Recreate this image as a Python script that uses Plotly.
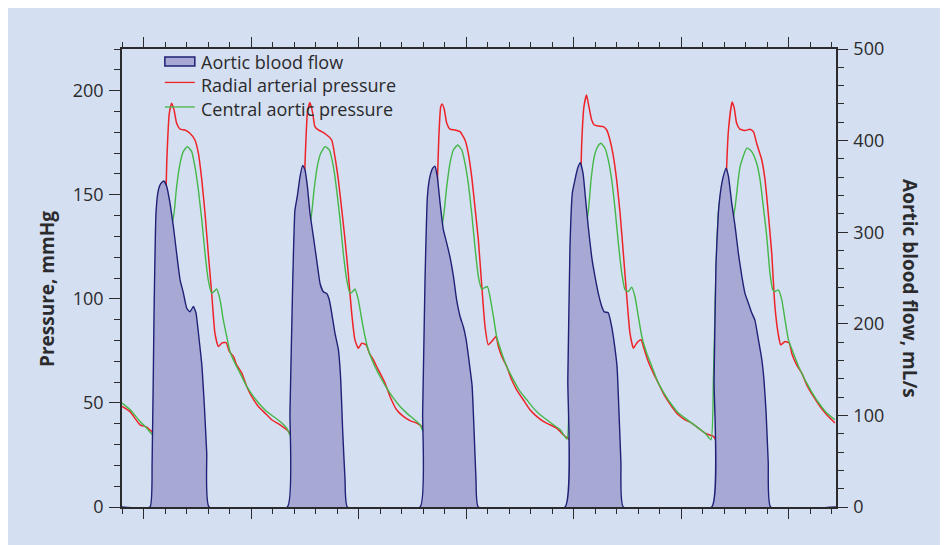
import plotly.graph_objects as go

# aortic blood flow (mL/s) against time (s)
flow_t = [0.0,
          0.130, 0.140, 0.149, 0.158, 0.169, 0.180, 0.195, 0.208, 0.223, 0.239, 0.254,
          0.270, 0.285, 0.301, 0.316, 0.332, 0.344, 0.359, 0.372, 0.383, 0.394, 0.405,
          0.769, 0.781, 0.794, 0.804, 0.815, 0.828, 0.840, 0.851, 0.862, 0.874, 0.890,
          0.905, 0.921, 0.936, 0.952, 0.964, 0.975, 0.990, 1.006, 1.017, 1.026, 1.037, 1.048,
          1.386, 1.398, 1.409, 1.420, 1.432, 1.445, 1.455, 1.466, 1.479, 1.494, 1.510,
          1.525, 1.541, 1.556, 1.572, 1.587, 1.600, 1.615, 1.628, 1.637, 1.646, 1.657,
          2.060, 2.073, 2.083, 2.094, 2.106, 2.119, 2.131, 2.144, 2.156, 2.168, 2.184,
          2.199, 2.215, 2.231, 2.243, 2.261, 2.277, 2.289, 2.302, 2.311, 2.320, 2.331,
          2.742, 2.753, 2.762, 2.773, 2.784, 2.796, 2.809, 2.820, 2.835, 2.851, 2.866,
          2.882, 2.897, 2.912, 2.928, 2.943, 2.959, 2.975, 2.985, 2.995, 3.005, 3.016,
          3.32]
flow_ml = [0,
           0, 48, 212, 321, 346, 353, 356, 350, 332, 306, 277,
           248, 234, 217, 213, 219, 212, 182, 153, 110, 59, 0,
           0, 103, 248, 324, 339, 361, 373, 368, 350, 321, 295,
           270, 244, 235, 233, 226, 212, 190, 172, 139, 84, 30, 0,
           0, 103, 248, 339, 361, 370, 372, 361, 332, 303, 288,
           273, 252, 226, 208, 197, 183, 157, 132, 84, 30, 0,
           0, 139, 284, 343, 357, 370, 376, 364, 335, 306, 273,
           252, 233, 219, 213, 212, 197, 179, 153, 103, 48, 0,
           0, 139, 266, 321, 346, 361, 370, 361, 332, 306, 277,
           252, 233, 223, 212, 204, 183, 161, 139, 103, 48, 0,
           0]

# radial arterial pressure (mmHg)
radial_t = [0.000, 0.037, 0.084, 0.115, 0.138, 0.161, 0.173, 0.185, 0.195, 0.208, 0.220,
            0.231, 0.242, 0.254, 0.270, 0.293, 0.316, 0.339, 0.355, 0.371, 0.386, 0.401,
            0.417, 0.432, 0.448, 0.464, 0.484, 0.499, 0.518, 0.533, 0.557, 0.580, 0.603,
            0.634, 0.665, 0.696, 0.735, 0.766, 0.789, 0.804,
            0.815, 0.828, 0.840, 0.851, 0.862, 0.874, 0.887, 0.897, 0.913, 0.929, 0.952,
            0.975, 0.990, 1.006, 1.022, 1.037, 1.052, 1.068, 1.083, 1.099, 1.115, 1.135,
            1.150, 1.169, 1.184, 1.200, 1.223, 1.246, 1.277, 1.308, 1.339, 1.370, 1.394,
            1.409, 1.424,
            1.437, 1.448, 1.461, 1.473, 1.482, 1.489, 1.499, 1.510, 1.525, 1.548, 1.572,
            1.595, 1.610, 1.626, 1.641, 1.657, 1.673, 1.688, 1.703, 1.719, 1.739, 1.750,
            1.766, 1.789, 1.812, 1.835, 1.866, 1.897, 1.928, 1.959, 1.990, 2.021, 2.052,
            2.083, 2.102,
            2.114, 2.126, 2.137, 2.148, 2.160, 2.171, 2.184, 2.196, 2.215, 2.238, 2.254,
            2.269, 2.285, 2.300, 2.316, 2.331, 2.347, 2.362, 2.378, 2.393, 2.413, 2.429,
            2.447, 2.471, 2.494, 2.525, 2.556, 2.587, 2.618, 2.649, 2.680, 2.711, 2.750,
            2.773,
            2.785, 2.796, 2.807, 2.820, 2.837, 2.847, 2.858, 2.873, 2.897, 2.920, 2.936,
            2.951, 2.975, 2.990, 3.005, 3.021, 3.036, 3.052, 3.063, 3.083, 3.103, 3.114,
            3.137, 3.161, 3.184, 3.215, 3.246, 3.277, 3.300, 3.315]
radial_mmhg = [48.3, 45.8, 39.5, 38.4, 36.3, 33.9, 35.5, 61.1, 109.1, 165.1, 189.1,
               194.0, 190.7, 184.3, 181.5, 181.1, 179.5, 176.3, 170.0, 157.1, 141.1, 122.0,
               102.7, 83.5, 77.1, 78.7, 79.0, 74.7, 72.3, 68.3, 64.3, 57.9, 53.1,
               48.3, 45.1, 41.9, 39.5, 37.1, 34.7, 32.3,
               37.1, 77.1, 125.1, 165.1, 189.1, 194.3, 189.1, 182.7, 181.1, 180.3, 178.7,
               176.3, 168.3, 157.1, 142.7, 128.3, 112.3, 93.1, 80.3, 76.3, 78.7, 77.9,
               73.9, 70.7, 67.5, 64.3, 59.5, 53.1, 46.7, 43.5, 41.5, 40.3, 38.7,
               36.3, 33.9,
               42.0, 85.0, 137.0, 177.0, 192.3, 193.6, 190.7, 184.3, 181.5, 181.1, 180.3,
               176.3, 170.0, 158.7, 144.3, 128.3, 105.9, 86.7, 77.9, 79.5, 81.9, 77.1,
               72.3, 67.5, 61.1, 56.3, 51.5, 46.7, 43.5, 41.1, 39.5, 37.9, 34.7,
               32.3, 33.1,
               77.1, 125.1, 173.1, 192.3, 197.9, 192.3, 185.9, 183.5, 183.0, 182.7, 181.1,
               176.3, 168.3, 157.1, 141.1, 122.0, 101.1, 83.5, 76.3, 78.7, 80.3, 75.5,
               69.9, 64.3, 59.5, 53.1, 48.3, 44.3, 41.9, 40.3, 37.9, 35.5, 33.9,
               30.7,
               45.1, 93.1, 149.1, 181.1, 194.5, 191.5, 184.3, 181.5, 180.8, 181.5, 180.3,
               174.7, 166.7, 157.1, 141.1, 122.0, 96.3, 82.7, 77.9, 79.5, 78.7, 73.9,
               68.3, 64.3, 58.7, 53.1, 48.3, 44.3, 41.9, 40.3]

# central aortic pressure (mmHg)
central_t = [0.000, 0.037, 0.084, 0.115, 0.143,
             0.153, 0.161, 0.173, 0.185, 0.195, 0.208, 0.220, 0.231, 0.242, 0.254, 0.270,
             0.285, 0.304, 0.324, 0.339, 0.355, 0.371, 0.386, 0.401, 0.417, 0.428, 0.440,
             0.456, 0.471, 0.487, 0.502, 0.525, 0.549, 0.580, 0.611, 0.642, 0.673, 0.704,
             0.735, 0.766, 0.783,
             0.794, 0.804, 0.815, 0.828, 0.840, 0.851, 0.862, 0.871, 0.882, 0.893, 0.908,
             0.924, 0.944, 0.964, 0.983, 0.998, 1.014, 1.029, 1.045, 1.060, 1.073, 1.083,
             1.099, 1.115, 1.130, 1.145, 1.169, 1.200, 1.231, 1.262, 1.293, 1.324, 1.355,
             1.386, 1.400,
             1.409, 1.420, 1.432, 1.443, 1.452, 1.463, 1.475, 1.487, 1.497, 1.510, 1.525,
             1.541, 1.561, 1.580, 1.595, 1.610, 1.626, 1.641, 1.657, 1.673, 1.683, 1.699,
             1.711, 1.727, 1.742, 1.766, 1.789, 1.820, 1.851, 1.882, 1.913, 1.944, 1.975,
             2.006, 2.038, 2.069,
             2.080, 2.088, 2.099, 2.110, 2.119, 2.130, 2.145, 2.156, 2.169, 2.181, 2.196,
             2.212, 2.227, 2.246, 2.261, 2.277, 2.293, 2.308, 2.324, 2.339, 2.354, 2.370,
             2.385, 2.401, 2.417, 2.440, 2.464, 2.494, 2.525, 2.556, 2.587, 2.618, 2.649,
             2.680, 2.711, 2.739,
             2.750, 2.761, 2.773, 2.789, 2.804, 2.817, 2.832, 2.851, 2.874, 2.906, 2.928,
             2.951, 2.967, 2.982, 2.998, 3.013, 3.026, 3.036, 3.052, 3.068, 3.083, 3.099,
             3.122, 3.153, 3.184, 3.215, 3.246, 3.277, 3.315]
central_mmhg = [49.9, 46.8, 41.1, 37.9, 34.7,
                61.1, 109.1, 144.3, 154.7, 155.5, 147.5, 137.9, 135.5, 141.1, 153.9, 165.1,
                170.7, 173.1, 170.7, 163.5, 152.3, 137.9, 121.9, 109.1, 102.7, 103.5, 104.7,
                99.5, 89.9, 81.9, 74.7, 69.1, 64.3, 57.9, 53.1, 49.1, 45.9, 43.5,
                41.1, 37.9, 34.3,
                61.1, 109.1, 141.1, 152.3, 155.5, 149.1, 137.9, 134.7, 141.1, 152.3, 163.5,
                169.9, 173.1, 171.5, 163.5, 152.3, 137.9, 121.9, 109.1, 102.7, 103.5, 104.7,
                99.5, 89.9, 81.9, 75.5, 69.1, 62.7, 57.1, 52.3, 48.3, 45.1, 42.4,
                39.5, 36.3,
                77.1, 125.1, 149.1, 157.1, 157.9, 147.5, 137.9, 134.7, 141.1, 153.9, 165.1,
                171.5, 173.9, 171.5, 165.1, 155.5, 141.1, 125.1, 110.7, 104.7, 105.1, 105.9,
                101.1, 91.5, 81.9, 73.9, 67.5, 61.1, 55.5, 51.5, 47.5, 44.3, 41.9,
                39.5, 37.1, 32.6,
                61.1, 109.1, 141.1, 153.9, 157.1, 150.7, 137.9, 135.0, 142.7, 157.1, 168.3,
                173.1, 174.7, 172.3, 166.7, 157.1, 142.7, 126.7, 112.3, 104.3, 103.5, 105.6,
                101.1, 91.5, 81.9, 73.9, 67.5, 59.5, 53.9, 49.1, 45.1, 42.7, 40.3,
                37.9, 35.5, 32.3,
                61.1, 109.1, 141.1, 152.3, 154.7, 144.3, 133.9, 144.3, 163.5, 172.5, 170.7,
                165.1, 157.1, 144.3, 129.9, 112.3, 104.3, 103.5, 104.3, 99.5, 89.9, 80.3,
                73.9, 65.9, 59.5, 53.9, 49.1, 45.1, 41.9]

legend_labels = ['Aortic blood flow', 'Radial arterial pressure', 'Central aortic pressure']

BG = '#d4e0f1'
INK = '#2b2a2c'
FLOW_LINE, FLOW_FILL = '#1f2076', '#a7a9d4'
RED, GREEN = '#ee2328', '#45b649'

fig = go.Figure()
fig.add_trace(go.Scatter(x=flow_t, y=flow_ml, name=legend_labels[0], yaxis='y2',
                         mode='lines', fill='tozeroy', fillcolor=FLOW_FILL,
                         line=dict(color=FLOW_LINE, width=1.4, shape='spline', smoothing=0.4)))
fig.add_trace(go.Scatter(x=radial_t, y=radial_mmhg, name=legend_labels[1],
                         mode='lines', line=dict(color=RED, width=1.5, shape='spline', smoothing=0.5)))
fig.add_trace(go.Scatter(x=central_t, y=central_mmhg, name=legend_labels[2],
                         mode='lines', line=dict(color=GREEN, width=1.4, shape='spline', smoothing=0.5)))

fig.update_layout(
    width=948, height=545, margin=dict(l=114, r=120, t=41, b=46),
    paper_bgcolor=BG, plot_bgcolor=BG,
    font=dict(family='Open Sans', size=18, color=INK),
    showlegend=False,
    xaxis=dict(range=[0, 3.32], showgrid=False, zeroline=False, showline=True,
               linecolor=INK, linewidth=1.5, mirror='ticks', ticks='outside', ticklen=10,
               tickwidth=1.3, tickcolor=INK, tick0=0.1, dtick=0.5, showticklabels=False,
               minor=dict(ticks='outside', ticklen=5, tickwidth=1.3, tickcolor=INK,
                          tick0=0, dtick=0.1, showgrid=False)),
    yaxis=dict(range=[0, 220], showgrid=False, zeroline=False, showline=True,
               linecolor=INK, linewidth=1.5, ticks='outside', ticklen=11, tickwidth=1.3,
               tickcolor=INK, tick0=0, dtick=50, ticklabelstandoff=2,
               minor=dict(ticks='outside', ticklen=6, tickwidth=1.3, tickcolor=INK,
                          dtick=10, showgrid=False)),
    yaxis2=dict(range=[0, 500], overlaying='y', side='right', showgrid=False, zeroline=False,
                showline=True, linecolor=INK, linewidth=1.5, ticks='outside', ticklen=10,
                tickwidth=1.3, tickcolor=INK, tick0=0, dtick=100, ticklabelstandoff=2,
                minor=dict(ticks='outside', ticklen=6, tickwidth=1.3, tickcolor=INK,
                           dtick=20, showgrid=False)),
)

# legend drawn by hand so the rows sit as tight as in the original
fig.add_shape(type='rect', xref='paper', yref='paper', x0=0.060, x1=0.102, y0=0.963, y1=0.9825,
              fillcolor=FLOW_FILL, line=dict(color=FLOW_LINE, width=1.5))
fig.add_shape(type='line', xref='paper', yref='paper', x0=0.060, x1=0.102, y0=0.927, y1=0.927,
              line=dict(color=RED, width=1.3))
fig.add_shape(type='line', xref='paper', yref='paper', x0=0.060, x1=0.102, y0=0.8735, y1=0.8735,
              line=dict(color=GREEN, width=1.3))
fig.add_annotation(text='<br>'.join(legend_labels), xref='paper', yref='paper', x=0.108, y=0.9203,
                   xanchor='left', yanchor='middle', align='left', showarrow=False,
                   font=dict(size=18, color=INK))

fig.add_annotation(text='<b>Pressure, mmHg</b>', xref='paper', yref='paper', x=-0.105, y=0.476,
                   xanchor='center', yanchor='middle', textangle=-90, showarrow=False,
                   font=dict(size=19, color=INK))
fig.add_annotation(text='<b>Aortic blood flow, mL/s</b>', xref='paper', yref='paper', x=1.1036, y=0.476,
                   xanchor='center', yanchor='middle', textangle=90, showarrow=False,
                   font=dict(size=19, color=INK))

fig.write_html("out.html")
